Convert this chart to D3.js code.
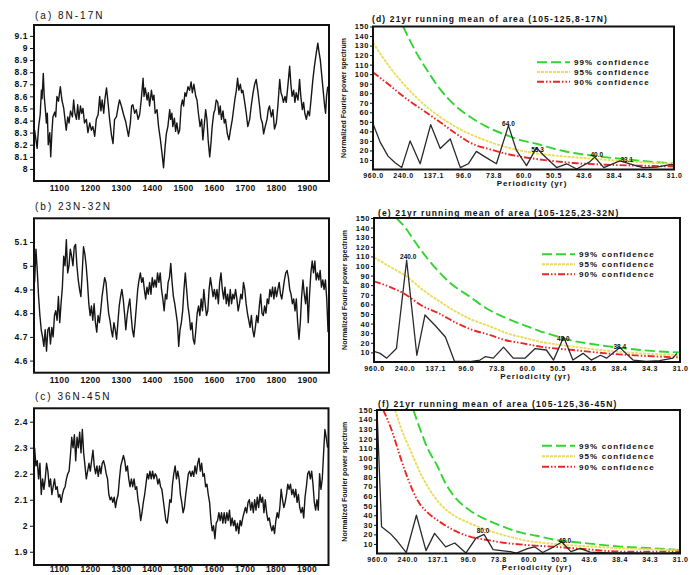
<!DOCTYPE html>
<html>
<head>
<meta charset="utf-8">
<script src="https://cdn.jsdelivr.net/npm/d3@7"></script>
<style>
  body { margin: 0; background: #fff; }
  svg text { font-family: "Liberation Sans", Arial, sans-serif; fill: #111; }
</style>
</head>
<body>
<svg id="fig" width="691" height="575"></svg>
<script>
// ---- left column: reconstructed series ----
const yearDomain = [1019, 1971];
const yearTicks = [1100, 1200, 1300, 1400, 1500, 1600, 1700, 1800, 1900];

const yearsA = [1021,1029,1034,1039,1043,1045,1049,1052,1057,1059,1062,1065,1070,1073,1077,1080,1086,1089,1093,1098,
  1104,1109,1115,1119,1123,1128,1132,1137,1143,1147,1151,1156,1160,1164,1169,1173,1177,1182,1188,1193,
  1199,1204,1209,1215,1220,1226,1231,1235,1239,1244,1248,1253,1259,1263,1269,1274,1279,1285,1291,
  1295,1301,1308,1315,1320,1324,1330,1334,1338,1344,1349,1355,1360,1365,1371,1374,1378,1384,1388,1392,
  1398,1402,1406,1410,1416,1421,1427,1432,1437,1442,1446,1451,1457,1460,1464,1467,1472,1476,1480,1485,
  1489,1494,1498,1502,1506,1510,1516,1521,1526,1530,1535,1541,1545,1550,1555,1560,1564,1569,1573,1577,
  1581,1586,1590,1594,1599,1603,1607,1612,1616,1620,1624,1629,1633,1637,1643,1648,1653,1659,1663,1667,
  1672,1676,1680,1685,1689,1693,1699,1704,1709,1715,1720,1726,1731,1736,1742,1747,1751,1756,1760,1765,
  1771,1775,1779,1785,1790,1795,1801,1806,1812,1816,1820,1824,1829,1833,1838,1844,1848,1852,1857,1861,
  1865,1871,1876,1880,1885,1889,1893,1898,1903,1908,1914,1919,1924,1930,1935,1938,1943,1947,1951,1957,
  1960,1963,1967];
const valuesA = [8.32,8.17,8.35,8.45,8.65,8.58,8.79,8.60,8.45,8.38,8.46,8.20,8.30,8.10,8.31,8.43,8.47,8.43,8.60,8.56,
  8.68,8.57,8.50,8.41,8.32,8.43,8.38,8.48,8.43,8.57,8.46,8.41,8.53,8.41,8.52,8.46,8.50,8.38,8.41,8.30,
  8.38,8.32,8.35,8.27,8.41,8.45,8.60,8.48,8.57,8.46,8.58,8.67,8.52,8.41,8.28,8.21,8.41,8.43,8.52,
  8.57,8.52,8.45,8.39,8.32,8.27,8.38,8.52,8.53,8.46,8.49,8.41,8.45,8.57,8.75,8.60,8.67,8.57,8.63,8.52,
  8.65,8.57,8.61,8.46,8.49,8.35,8.24,8.13,8.01,8.18,8.29,8.35,8.49,8.41,8.46,8.35,8.42,8.31,8.38,8.29,
  8.32,8.52,8.57,8.52,8.63,8.60,8.68,8.65,8.72,8.63,8.70,8.60,8.57,8.45,8.35,8.41,8.24,8.38,8.49,8.41,
  8.24,8.10,8.21,8.35,8.46,8.49,8.57,8.55,8.45,8.52,8.41,8.48,8.38,8.41,8.29,8.24,8.32,8.41,8.49,8.57,
  8.65,8.75,8.65,8.70,8.63,8.65,8.55,8.46,8.35,8.41,8.52,8.63,8.70,8.74,8.63,8.52,8.42,8.38,8.29,8.35,
  8.41,8.49,8.52,8.43,8.49,8.33,8.38,8.52,8.74,8.63,8.60,8.55,8.60,8.55,8.68,8.85,8.70,8.60,8.65,8.55,
  8.63,8.57,8.74,8.60,8.49,8.55,8.46,8.41,8.48,8.44,8.60,8.74,8.85,8.96,9.04,8.98,8.90,8.79,8.68,8.52,
  8.46,8.60,8.68];

// (b) and (c) were read at an even spacing from 1021 to 1968
const spanBC = [1021, 1968];
const valuesB = [4.93,5.07,4.98,4.87,4.79,4.73,4.70,4.66,4.73,4.64,4.73,4.74,4.67,4.74,4.70,4.79,4.81,4.77,4.87,4.76,
  4.84,4.91,5.04,5.00,5.11,4.97,5.00,5.07,5.04,5.00,5.08,5.09,5.00,4.94,4.90,4.87,4.97,5.08,5.05,5.00,
  4.93,4.84,4.79,4.83,4.77,4.84,4.76,4.72,4.79,4.76,4.81,4.87,4.91,4.95,4.93,4.86,4.80,4.77,4.73,4.70,
  4.76,4.73,4.69,4.76,4.83,4.87,4.90,4.86,4.80,4.73,4.79,4.83,4.86,4.79,4.73,4.70,4.76,4.83,4.90,4.94,
  4.97,4.93,4.95,4.90,4.86,4.91,4.88,4.93,4.88,4.95,4.91,4.94,4.91,4.97,4.93,4.97,4.90,4.86,4.81,4.88,
  4.86,4.93,4.95,5.01,4.93,4.87,4.84,4.80,4.76,4.66,4.73,4.76,4.81,4.90,4.97,4.90,4.83,4.79,4.73,4.76,
  4.69,4.67,4.73,4.80,4.83,4.79,4.86,4.81,4.90,4.84,4.79,4.81,4.90,4.95,4.91,4.87,4.90,4.86,4.90,4.84,
  4.93,4.97,4.90,4.86,4.91,4.84,4.88,4.83,4.90,4.84,4.88,4.86,4.90,4.86,4.81,4.84,4.88,4.86,4.93,4.90,
  4.84,4.80,4.77,4.74,4.79,4.73,4.70,4.74,4.79,4.76,4.83,4.88,4.80,4.79,4.83,4.80,4.86,4.84,4.90,4.87,
  4.91,4.86,4.91,4.87,4.90,4.93,4.88,4.86,4.90,4.94,4.97,4.98,4.95,4.90,4.88,4.84,4.86,4.81,4.86,4.76,
  4.69,4.76,4.87,4.94,4.88,4.84,4.91,4.76,4.88,4.97,5.02,4.97,5.02,4.94,4.97,4.94,4.98,4.91,4.94,4.90,
  4.94,4.86,4.72];
const valuesC = [2.30,2.23,2.25,2.18,2.24,2.12,2.18,2.14,2.18,2.24,2.21,2.15,2.18,2.12,2.15,2.18,2.14,2.15,2.11,2.12,
  2.09,2.12,2.14,2.15,2.18,2.20,2.21,2.27,2.34,2.30,2.35,2.25,2.34,2.30,2.36,2.28,2.37,2.28,2.23,2.18,
  2.21,2.24,2.21,2.25,2.29,2.23,2.20,2.23,2.19,2.23,2.20,2.24,2.25,2.23,2.20,2.18,2.12,2.10,2.11,2.09,
  2.11,2.07,2.10,2.12,2.18,2.23,2.25,2.27,2.25,2.21,2.23,2.18,2.15,2.18,2.15,2.18,2.14,2.15,2.10,2.07,
  2.02,2.05,2.09,2.12,2.16,2.20,2.18,2.21,2.18,2.21,2.18,2.20,2.19,2.16,2.18,2.15,2.14,2.10,2.06,2.02,
  2.01,2.05,2.10,2.09,2.16,2.20,2.23,2.18,2.21,2.18,2.12,2.09,2.05,2.07,2.12,2.16,2.20,2.21,2.19,2.21,
  2.19,2.23,2.20,2.24,2.26,2.21,2.24,2.19,2.20,2.15,2.16,2.12,2.09,2.02,1.98,2.00,1.95,2.01,2.02,2.05,
  2.02,2.05,2.01,2.05,2.01,2.05,2.02,2.06,2.00,2.03,2.00,2.02,1.98,2.01,1.97,2.02,2.00,2.03,2.05,2.07,
  2.05,2.09,2.10,2.06,2.09,2.05,2.10,2.06,2.11,2.07,2.12,2.09,2.11,2.05,2.10,2.05,2.02,2.03,2.00,1.98,
  2.00,1.97,2.02,2.05,2.03,2.07,2.14,2.10,2.07,2.09,2.12,2.16,2.14,2.16,2.12,2.14,2.11,2.14,2.09,2.12,
  2.07,2.05,2.07,2.03,2.11,2.15,2.20,2.21,2.18,2.21,2.16,2.09,2.06,2.10,2.06,2.20,2.14,2.18,2.28,2.37,
  2.34,2.30];
const yearsB = valuesB.map((v, i) => spanBC[0] + i * (spanBC[1] - spanBC[0]) / (valuesB.length - 1));
const yearsC = valuesC.map((v, i) => spanBC[0] + i * (spanBC[1] - spanBC[0]) / (valuesC.length - 1));

const ticksA = [8, 8.1, 8.2, 8.3, 8.4, 8.5, 8.6, 8.7, 8.8, 8.9, 9, 9.1];
const ticksB = [4.6, 4.7, 4.8, 4.9, 5, 5.1];
const ticksC = [1.9, 2, 2.1, 2.2, 2.3, 2.4];

// ---- right column: spectra, x = harmonic number (period = 960 / k) ----
const harmonics = [1, 4, 7, 10, 13, 16, 19, 22, 25, 28, 31];
const periodLabels = ["960.0", "240.0", "137.1", "96.0", "73.8", "60.0", "50.5", "43.6", "38.4", "34.3", "31.0"];
const powerTicks = [10, 20, 30, 40, 50, 60, 70, 80, 90, 100, 110, 120, 130, 140, 150];
const confNames = ["99% confidence", "95% confidence", "90% confidence"];

const specD = [[1,48],[1.7,29],[2.5,14],[3.2,7],[3.86,2],[4.7,30],[5.7,6],[6.75,47],[7.7,22],[8.7,32],[9.7,2],
  [10.5,6],[11.3,19],[12.2,13],[13.3,6],[14.5,46],[15.3,20],[16.3,4],[17.3,23],[18,15],[19.3,2],[20.3,6],
  [21.3,0.5],[22.6,8],[23.1,13],[24,2],[25.6,9],[26.6,6],[27.9,2],[29.3,2.4],[30.6,5],[31,5]];
const conf99D = [[4,150],[5.4,121],[6.4,104],[7.7,84],[9.3,66],[10.7,55],[12.7,43],[14.3,36],[16,30],[17.3,27],
  [19.3,21],[20.6,18],[22.6,15],[24,13],[26,11],[27.3,9.5],[30.6,6.6],[31,6.3]];
const conf95D = [[1,133],[2.7,107],[4.36,86],[6,69],[7.7,55],[9.3,44.4],[11,35.7],[12.7,28.7],[14.3,23.4],[16,19.2],
  [17.65,16.4],[21,12.9],[24.3,10.2],[27.6,7.7],[31,6]];
const conf90D = [[1,102],[2.7,88],[4.36,74],[6,62],[7.7,49.6],[9.3,37.4],[10.7,28],[12.7,21],[14.3,16.4],[16,13],
  [17.65,10.5],[21,6.8],[24.3,5],[27.6,4],[31,3.2]];
const peaksD = [[14.5,48,"64.0"],[17.4,21,"53.3"],[23.3,15.7,"40.0"],[26.3,10.5,"33.1"]];

const specE = [[1,11],[1.6,9],[2.25,4],[3.2,14],[4.2,106],[5.2,7],[6,49],[7,38],[8,26],[8.9,0.5],[10.4,0.5],
  [11.4,2],[11.9,5.5],[12.7,4],[13.7,15.5],[14.65,4],[15.8,4],[16.8,14],[17.9,12.5],[18.6,2],[19.6,26],[20.5,2],
  [21.5,9],[22.3,2],[23.2,7],[23.8,4],[25.1,15],[26.4,2],[27.7,0.5],[29,1.5],[30.3,4],[30.7,9]];
const conf99E = [[3.2,150],[4.2,138],[4.9,127],[5.5,118],[7.1,97],[8.5,82],[10.4,68],[12,56],[13.7,47],[16.3,36],
  [17.3,32],[18.9,27],[20.5,22],[22.2,19],[23.8,16.5],[25.4,14.5],[27.1,12.5],[29,11],[31,10]];
const conf95E = [[1,109],[2.6,99],[4.2,89],[5.8,75],[7.3,64],[9.1,52],[10.6,44],[12.4,37],[14,30],[15.6,25.5],
  [17.3,21],[18.9,18.4],[20.5,16],[23.8,11.8],[27.1,9],[31,7.2]];
const conf90E = [[1,84],[2.6,78],[3.9,71.5],[5.8,58],[7.3,51],[9.1,40.5],[10.5,34],[12.4,28],[13.8,23],[15.6,19.4],
  [17.3,16],[20.5,12.5],[23.8,9],[27.1,6.6],[30.4,5],[31,4.8]];
const peaksE = [[4.35,110,"240.0"],[19.56,24,"48.0"],[25.1,15.5,"38.4"]];

const specF = [[1,150],[1.45,28],[2.3,21],[3,13],[3.9,1],[4.9,40],[5.85,3],[6.7,21],[7.8,7],[8.7,11],[9.8,0.5],
  [10.8,16],[11.6,20],[12.5,4],[13.3,3],[14.2,2],[14.8,0.3],[15.9,5],[16.6,7],[17.4,1],[18.5,7],[19.3,12],
  [20.2,2],[21.1,5.4],[22.1,1.5],[24,0.5],[26,0.5],[28,0.3],[30,0.5],[31,1]];
const conf99F = [[4.6,150],[5.3,129],[6,110],[6.9,93],[7.7,75],[8.55,61],[10.2,45],[11.9,35],[13.5,28],[15.2,22],
  [16.8,18.5],[18.5,14.5],[20,12.5],[21.8,10.6],[25.1,7.2],[28.4,5.4],[31,3.7]];
const conf95F = [[2.8,150],[3.45,129],[4.3,108],[5.3,84],[6.25,66],[7.2,52.4],[8.55,40.2],[10.2,31.6],[11.9,24.6],
  [13.5,19.3],[15.5,14],[18.5,10],[21.8,7.5],[25.1,5.5],[28.4,4.3],[31,3.5]];
const conf90F = [[1.62,150],[2.45,129],[3.3,101],[4.1,77],[5.1,54],[6.1,42],[7.2,33.2],[8.55,24.6],[10.2,17.6],
  [11.9,14.1],[13.5,11.3],[15.8,8.9],[18.5,7],[21.8,4.4],[25.1,2],[28.4,2],[31,2]];
const peaksF = [[11.5,23.8,"80.0"],[19.6,13.4,"48.0"]];

// ---- drawing ----
const svg = d3.select("#fig");

function axisStyle(g, size, spacing) {
  g.attr("font-family", null).attr("font-size", null);
  g.select(".domain").remove();
  g.selectAll("text")
    .attr("font-size", size)
    .attr("font-weight", "bold")
    .attr("letter-spacing", spacing)
    .attr("fill", "#111");
  g.selectAll("line").attr("stroke", "#111");
}

const leftPanels = [
  { title: "(a) 8N-17N", x0: 34, x1: 329, y0: 25, y1: 181, dom: [7.90, 9.19], ticks: ticksA, years: yearsA, vals: valuesA, titleY: 18.5, xPad: 4 },
  { title: "(b) 23N-32N", x0: 34, x1: 329, y0: 218.3, y1: 372.7, dom: [4.549, 5.2], ticks: ticksB, years: yearsB, vals: valuesB, titleY: 209.5, xPad: 4 },
  { title: "(c) 36N-45N", x0: 34, x1: 328.5, y0: 408.3, y1: 565, dom: [1.849, 2.4515], ticks: ticksC, years: yearsC, vals: valuesC, titleY: 400, xPad: 0.5 }
];

leftPanels.forEach((p, i) => {
  const x = d3.scaleLinear().domain(yearDomain).range([p.x0, p.x1]);
  const y = d3.scaleLinear().domain(p.dom).range([p.y1, p.y0]);
  const g = svg.append("g");
  const clipId = "clipL" + i;
  svg.append("clipPath").attr("id", clipId)
    .append("rect").attr("x", p.x0).attr("y", p.y0).attr("width", p.x1 - p.x0).attr("height", p.y1 - p.y0);

  g.append("path")
    .datum(d3.zip(p.years, p.vals))
    .attr("clip-path", `url(#${clipId})`)
    .attr("fill", "none")
    .attr("stroke", "#161616")
    .attr("stroke-width", 1.4)
    .attr("stroke-linejoin", "round")
    .attr("d", d3.line().x(d => x(d[0])).y(d => y(d[1])));

  g.append("g")
    .attr("transform", `translate(${p.x0},0)`)
    .call(d3.axisLeft(y).tickValues(p.ticks).tickFormat(d3.format("~g")).tickSize(4).tickPadding(2))
    .call(axisStyle, 8.5, 0.6);

  g.append("g")
    .attr("transform", `translate(0,${p.y1})`)
    .call(d3.axisBottom(x).tickValues(yearTicks).tickFormat(d3.format("d")).tickSize(0).tickPadding(p.xPad))
    .call(axisStyle, 8.5, 0.3);

  g.append("rect")
    .attr("x", p.x0).attr("y", p.y0)
    .attr("width", p.x1 - p.x0).attr("height", p.y1 - p.y0)
    .attr("fill", "none").attr("stroke", "#111").attr("stroke-width", 2);

  g.append("text")
    .attr("x", p.x0 + 1).attr("y", p.titleY)
    .attr("font-size", 10).attr("letter-spacing", 2)
    .text(p.title);
});

const confStyles = [
  { color: "#30d630", dash: "10,4" },
  { color: "#ecdc5c", dash: "3,1" },
  { color: "#ec2626", dash: "7,2,1.5,2,1.5,2" }
];

const rightPanels = [
  { title: "(d) 21yr running mean of area (105-125,8-17N)", x0: 373, x1: 674, y0: 26.5, y1: 169.5,
    titleX: 372, titleY: 22, legX: 537, legY: 62.3, legGap: 9.7, yLabX: 345.5,
    spec: specD, conf: [conf99D, conf95D, conf90D], peaks: peaksD },
  { title: "(e) 21yr running mean of area (105-125,23-32N)", x0: 374, x1: 680, y0: 218, y1: 362,
    titleX: 378, titleY: 215.5, legX: 542, legY: 254.3, legGap: 10, yLabX: 347,
    spec: specE, conf: [conf99E, conf95E, conf90E], peaks: peaksE },
  { title: "(f) 21yr running mean of area (105-125,36-45N)", x0: 377, x1: 680, y0: 410, y1: 553.5,
    titleX: 378, titleY: 407, legX: 542, legY: 445.7, legGap: 10.5, yLabX: 347,
    spec: specF, conf: [conf99F, conf95F, conf90F], peaks: peaksF }
];

rightPanels.forEach((p, i) => {
  const x = d3.scaleLinear().domain([1, 31]).range([p.x0, p.x1]);
  const y = d3.scaleLinear().domain([0, 150]).range([p.y1, p.y0]);
  const g = svg.append("g");
  const clipId = "clipR" + i;
  svg.append("clipPath").attr("id", clipId)
    .append("rect").attr("x", p.x0).attr("y", p.y0).attr("width", p.x1 - p.x0).attr("height", p.y1 - p.y0);

  const curve = d3.line().x(d => x(d[0])).y(d => y(d[1])).curve(d3.curveMonotoneX);

  // confidence curves
  p.conf.forEach((c, j) => {
    g.append("path")
      .datum(c)
      .attr("clip-path", `url(#${clipId})`)
      .attr("fill", "none")
      .attr("stroke", confStyles[j].color)
      .attr("stroke-width", 1.9)
      .attr("stroke-dasharray", confStyles[j].dash)
      .attr("d", curve);
  });

  // spectrum
  g.append("path")
    .datum(p.spec)
    .attr("clip-path", `url(#${clipId})`)
    .attr("fill", "none")
    .attr("stroke", "#2a2a2a")
    .attr("stroke-width", 1.3)
    .attr("stroke-linejoin", "round")
    .attr("d", d3.line().x(d => x(d[0])).y(d => y(d[1])));

  // peak labels
  g.selectAll(".peak")
    .data(p.peaks)
    .enter()
    .append("text")
    .attr("x", d => x(d[0]))
    .attr("y", d => y(d[1]))
    .attr("dy", "0.35em")
    .attr("text-anchor", "middle")
    .attr("font-size", 6.5)
    .attr("font-weight", "bold")
    .text(d => d[2]);

  g.append("g")
    .attr("transform", `translate(${p.x0},0)`)
    .call(d3.axisLeft(y).tickValues(powerTicks).tickSize(3).tickPadding(1))
    .call(axisStyle, 7.5, 0.6);

  g.append("g")
    .attr("transform", `translate(0,${p.y1})`)
    .call(d3.axisBottom(x).tickValues(harmonics).tickFormat((d, k) => periodLabels[k]).tickSize(0).tickPadding(4))
    .call(axisStyle, 7, 0.6);

  g.append("rect")
    .attr("x", p.x0).attr("y", p.y0)
    .attr("width", p.x1 - p.x0).attr("height", p.y1 - p.y0)
    .attr("fill", "none").attr("stroke", "#111").attr("stroke-width", 2);

  g.append("text")
    .attr("x", p.titleX).attr("y", p.titleY)
    .attr("font-size", 8.5).attr("font-weight", "bold").attr("letter-spacing", 1.15)
    .text(p.title);

  g.append("text")
    .attr("transform", `translate(${p.yLabX},${(p.y0 + p.y1) / 2}) rotate(-90)`)
    .attr("text-anchor", "middle")
    .attr("font-size", 7).attr("font-weight", "bold")
    .text("Normalized Fourier power spectrum");

  g.append("text")
    .attr("x", (p.x0 + p.x1) / 2 + 8.5).attr("y", Math.min(p.y1 + 16.5, 573))
    .attr("text-anchor", "middle")
    .attr("font-size", 8).attr("font-weight", "bold").attr("letter-spacing", 0.9)
    .text("Periodicity (yr)");

  // legend
  confNames.forEach((name, j) => {
    const ly = p.legY + j * p.legGap;
    g.append("line")
      .attr("x1", p.legX).attr("x2", p.legX + 33)
      .attr("y1", ly).attr("y2", ly)
      .attr("stroke", confStyles[j].color)
      .attr("stroke-width", 1.9)
      .attr("stroke-dasharray", confStyles[j].dash);
    g.append("text")
      .attr("x", p.legX + 37).attr("y", ly)
      .attr("dy", "0.35em")
      .attr("font-size", 8).attr("font-weight", "bold").attr("letter-spacing", 1.1)
      .text(name);
  });
});
</script>
</body>
</html>
